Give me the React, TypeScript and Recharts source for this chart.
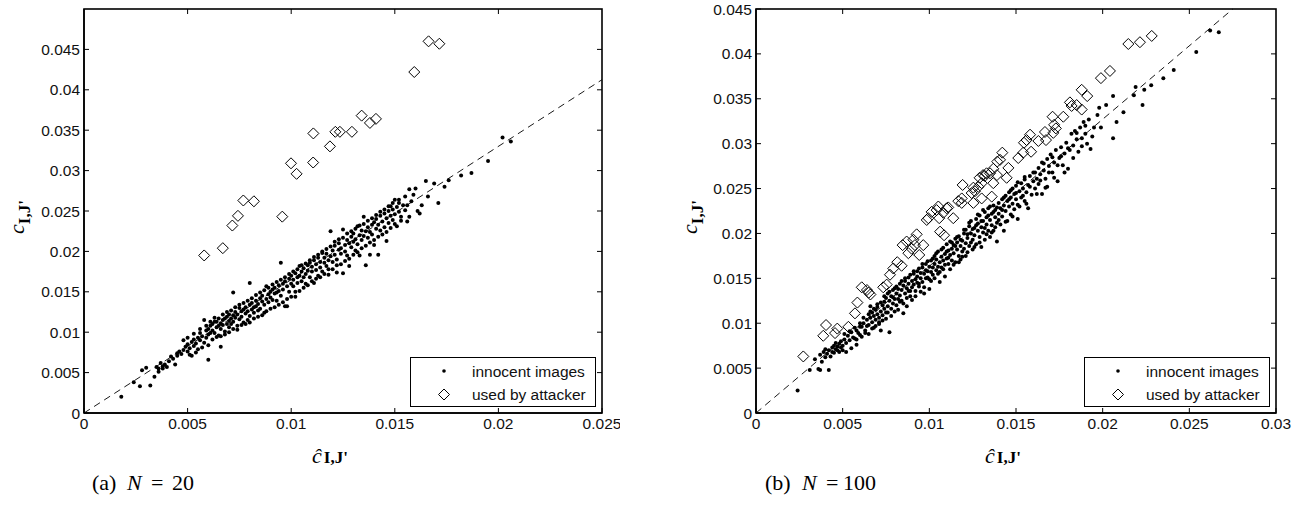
import React from "react";
import { ScatterChart, Scatter, XAxis, YAxis, ReferenceLine } from "recharts";

// (a) N = 20
const innocentA: [number, number][] = [
  [0.0018,0.0020],[0.0024,0.0038],[0.0027,0.0033],[0.0028,0.0053],[0.0030,0.0056],[0.0032,0.0034],[0.0034,0.0045],[0.0035,0.0057],[0.0036,0.0051],[0.0037,0.0062],[0.0038,0.0055],[0.0039,0.0060],[0.0040,0.0057],[0.0038,0.0058],[0.0036,0.0055],
  [0.0041,0.0064],[0.0042,0.0070],[0.0043,0.0067],[0.0044,0.0060],[0.0045,0.0074],[0.0045,0.0071],[0.0046,0.0076],[0.0047,0.0073],[0.0048,0.0090],[0.0048,0.0078],[0.0049,0.0082],[0.0050,0.0076],[0.0050,0.0085],[0.0051,0.0080],[0.0052,0.0071],[0.0052,0.0088],[0.0053,0.0091],[0.0053,0.0083],[0.0054,0.0086],[0.0055,0.0093],[0.0055,0.0079],[0.0056,0.0099],[0.0056,0.0090],[0.0057,0.0095],[0.0058,0.0115],[0.0058,0.0087],[0.0059,0.0102],[0.0059,0.0093],[0.0060,0.0066],[0.0060,0.0104],[0.0060,0.0097],
  [0.0061,0.0108],[0.0061,0.0099],[0.0062,0.0110],[0.0062,0.0102],[0.0063,0.0099],[0.0063,0.0113],[0.0064,0.0106],[0.0064,0.0113],[0.0065,0.0096],[0.0065,0.0108],[0.0066,0.0082],[0.0066,0.0111],[0.0066,0.0104],[0.0067,0.0115],[0.0067,0.0109],[0.0068,0.0101],[0.0068,0.0117],[0.0069,0.0119],[0.0069,0.0110],[0.0070,0.0106],[0.0070,0.0114],[0.0070,0.0122],[0.0071,0.0117],[0.0071,0.0110],[0.0072,0.0149],[0.0072,0.0121],[0.0072,0.0113],[0.0073,0.0118],[0.0073,0.0125],[0.0074,0.0108],[0.0074,0.0122],[0.0075,0.0130],[0.0075,0.0116],[0.0076,0.0126],[0.0076,0.0119],[0.0077,0.0112],[0.0077,0.0128],[0.0078,0.0123],[0.0078,0.0131],[0.0079,0.0115],[0.0079,0.0126],[0.0080,0.0161],[0.0080,0.0134],[0.0080,0.0120],[0.0081,0.0128],
  [0.0081,0.0136],[0.0082,0.0124],[0.0082,0.0131],[0.0083,0.0132],[0.0083,0.0139],[0.0084,0.0127],[0.0084,0.0135],[0.0085,0.0142],[0.0085,0.0129],[0.0086,0.0138],[0.0086,0.0145],[0.0087,0.0124],[0.0087,0.0134],[0.0088,0.0157],[0.0088,0.0141],[0.0089,0.0147],[0.0089,0.0137],[0.0090,0.0150],[0.0090,0.0143],[0.0091,0.0153],[0.0091,0.0140],[0.0092,0.0148],[0.0092,0.0155],[0.0093,0.0149],[0.0093,0.0139],[0.0094,0.0158],[0.0094,0.0151],[0.0095,0.0186],[0.0095,0.0145],[0.0096,0.0160],[0.0096,0.0153],[0.0097,0.0132],[0.0097,0.0163],[0.0098,0.0157],[0.0098,0.0132],[0.0099,0.0166],[0.0099,0.0150],[0.0100,0.0160],[0.0100,0.0170],
  [0.0101,0.0165],[0.0101,0.0157],[0.0102,0.0144],[0.0102,0.0173],[0.0103,0.0168],[0.0103,0.0161],[0.0104,0.0182],[0.0104,0.0170],[0.0105,0.0163],[0.0105,0.0175],[0.0106,0.0168],[0.0106,0.0179],[0.0107,0.0160],[0.0107,0.0172],[0.0108,0.0183],[0.0108,0.0176],[0.0109,0.0168],[0.0109,0.0186],[0.0110,0.0175],[0.0110,0.0181],[0.0111,0.0161],[0.0111,0.0189],[0.0112,0.0177],[0.0112,0.0184],[0.0113,0.0170],[0.0113,0.0192],[0.0114,0.0180],[0.0114,0.0187],[0.0115,0.0198],[0.0115,0.0175],[0.0116,0.0186],[0.0116,0.0192],[0.0117,0.0182],[0.0117,0.0197],[0.0118,0.0189],[0.0118,0.0178],[0.0119,0.0194],[0.0119,0.0225],[0.0120,0.0187],[0.0120,0.0201],
  [0.0121,0.0196],[0.0121,0.0207],[0.0122,0.0190],[0.0122,0.0174],[0.0123,0.0202],[0.0123,0.0210],[0.0124,0.0197],[0.0124,0.0204],[0.0125,0.0173],[0.0125,0.0227],[0.0126,0.0208],[0.0126,0.0200],[0.0127,0.0214],[0.0127,0.0195],[0.0128,0.0182],[0.0128,0.0210],[0.0129,0.0218],[0.0129,0.0205],[0.0130,0.0212],[0.0130,0.0222],[0.0131,0.0201],[0.0131,0.0215],[0.0132,0.0231],[0.0132,0.0209],[0.0133,0.0195],[0.0133,0.0220],[0.0134,0.0214],[0.0134,0.0226],[0.0135,0.0243],[0.0135,0.0219],[0.0136,0.0183],[0.0136,0.0225],[0.0137,0.0217],[0.0137,0.0230],[0.0138,0.0196],[0.0138,0.0224],[0.0139,0.0233],[0.0139,0.0221],[0.0140,0.0208],[0.0140,0.0236],
  [0.0141,0.0228],[0.0141,0.0240],[0.0142,0.0196],[0.0142,0.0233],[0.0143,0.0226],[0.0143,0.0244],[0.0144,0.0237],[0.0145,0.0230],[0.0145,0.0247],[0.0146,0.0213],[0.0146,0.0241],[0.0147,0.0235],[0.0147,0.0250],[0.0148,0.0244],[0.0148,0.0256],[0.0149,0.0239],[0.0149,0.0252],[0.0150,0.0264],[0.0150,0.0246],[0.0151,0.0231],[0.0151,0.0255],[0.0152,0.0249],[0.0152,0.0260],[0.0153,0.0243],[0.0154,0.0257],[0.0155,0.0251],[0.0156,0.0237],[0.0156,0.0257],[0.0157,0.0277],[0.0158,0.0262],[0.0160,0.0278],[0.0161,0.0250],
  [0.0163,0.0257],[0.0165,0.0287],[0.0166,0.0268],[0.0169,0.0284],[0.0171,0.0260],[0.0174,0.0280],[0.0176,0.0288],[0.0182,0.0294],[0.0187,0.0297],[0.0195,0.0312],[0.0202,0.0341],[0.0206,0.0336],
  [0.0050,0.0093],[0.0051,0.0072],[0.0053,0.0098],[0.0054,0.0075],[0.0056,0.0104],[0.0057,0.0081],[0.0059,0.0108],[0.0060,0.0084],[0.0061,0.0113],[0.0062,0.0091],[0.0063,0.0118],[0.0064,0.0094],[0.0065,0.0117],[0.0066,0.0095],[0.0067,0.0122],[0.0068,0.0097],[0.0069,0.0125],[0.0070,0.0100],[0.0071,0.0127],[0.0072,0.0104],[0.0073,0.0131],[0.0074,0.0103],[0.0075,0.0134],[0.0076,0.0109],[0.0077,0.0136],[0.0078,0.0110],[0.0079,0.0139],[0.0080,0.0112],
  [0.0081,0.0142],[0.0082,0.0117],[0.0083,0.0146],[0.0084,0.0119],[0.0085,0.0149],[0.0086,0.0121],[0.0087,0.0152],[0.0088,0.0126],[0.0089,0.0155],[0.0090,0.0129],[0.0091,0.0159],[0.0092,0.0131],[0.0093,0.0162],[0.0094,0.0134],[0.0095,0.0165],[0.0096,0.0137],[0.0097,0.0168],[0.0098,0.0141],[0.0099,0.0172],[0.0100,0.0144],[0.0101,0.0175],[0.0102,0.0150],[0.0103,0.0178],[0.0104,0.0151],[0.0105,0.0183],[0.0106,0.0155],[0.0107,0.0185],[0.0108,0.0158],[0.0109,0.0189],[0.0110,0.0163],
  [0.0111,0.0193],[0.0112,0.0166],[0.0113,0.0196],[0.0114,0.0168],[0.0115,0.0200],[0.0116,0.0172],[0.0117,0.0203],[0.0118,0.0171],[0.0119,0.0206],[0.0120,0.0178],[0.0121,0.0212],[0.0122,0.0183],[0.0123,0.0215],[0.0124,0.0184],[0.0125,0.0217],[0.0126,0.0188],[0.0127,0.0222],[0.0128,0.0191],[0.0129,0.0225],[0.0130,0.0196],[0.0131,0.0228],[0.0132,0.0199],[0.0133,0.0232],[0.0134,0.0204],[0.0135,0.0234],[0.0136,0.0207],[0.0137,0.0238],[0.0138,0.0211],[0.0139,0.0241],[0.0140,0.0214],
  [0.0141,0.0245],[0.0142,0.0218],[0.0143,0.0249],[0.0144,0.0221],[0.0145,0.0252],[0.0146,0.0224],[0.0147,0.0256],[0.0148,0.0229],[0.0149,0.0260],[0.0150,0.0234],[0.0152,0.0264],[0.0153,0.0238],[0.0155,0.0268],[0.0157,0.0243],[0.0159,0.0270],[0.0162,0.0247],
];
const attackerA: [number, number][] = [
  [0.0058,0.0195],[0.0067,0.0204],[0.00716,0.0232],[0.00743,0.0244],[0.00769,0.0263],[0.0082,0.0262],[0.00957,0.0243],[0.00999,0.0309],[0.01026,0.0296],[0.01106,0.0310],[0.01107,0.0346],[0.01187,0.0330],[0.01213,0.0348],[0.01235,0.0348],[0.01293,0.0348],[0.0134,0.0368],[0.0138,0.0359],[0.01409,0.0364],[0.01594,0.0422],[0.01663,0.0460],[0.01715,0.0457],
];

// (b) N = 100
const innocentB: [number, number][] = [
  [0.0024,0.0025],[0.0031,0.0048],[0.0034,0.0060],[0.0036,0.0049],[0.0037,0.0048],[0.0037,0.0065],[0.0038,0.0057],[0.0039,0.0068],[0.0040,0.0062],[0.0040,0.0071],
  [0.0041,0.0066],[0.0042,0.0048],[0.0042,0.0070],[0.0043,0.0063],[0.0044,0.0073],[0.0044,0.0068],[0.0045,0.0075],[0.0045,0.0067],[0.0046,0.0071],[0.0046,0.0078],[0.0047,0.0070],[0.0047,0.0074],[0.0048,0.0068],[0.0048,0.0077],[0.0049,0.0073],[0.0049,0.0080],[0.0050,0.0075],[0.0050,0.0070],[0.0051,0.0082],[0.0052,0.0078],[0.0053,0.0086],[0.0054,0.0081],[0.0055,0.0090],[0.0056,0.0084],[0.0057,0.0083],[0.0058,0.0076],[0.0058,0.0092],[0.0059,0.0089],[0.0060,0.0096],[0.0060,0.0087],
  [0.0061,0.0096],[0.0062,0.0100],[0.0063,0.0092],[0.0064,0.0104],[0.0065,0.0110],[0.0065,0.0098],[0.0066,0.0119],[0.0066,0.0106],[0.0067,0.0101],[0.0067,0.0112],[0.0068,0.0108],[0.0068,0.0095],[0.0069,0.0115],[0.0069,0.0104],[0.0070,0.0110],[0.0070,0.0118],[0.0071,0.0099],[0.0071,0.0106],[0.0072,0.0113],[0.0072,0.0092],[0.0073,0.0120],[0.0073,0.0109],[0.0074,0.0116],[0.0074,0.0124],[0.0075,0.0112],[0.0075,0.0128],[0.0076,0.0119],[0.0076,0.0133],[0.0077,0.0090],[0.0077,0.0125],[0.0078,0.0116],[0.0078,0.0130],[0.0079,0.0122],[0.0079,0.0137],[0.0080,0.0127],[0.0080,0.0113],
  [0.0081,0.0133],[0.0081,0.0120],[0.0082,0.0138],[0.0082,0.0127],[0.0083,0.0131],[0.0083,0.0144],[0.0084,0.0125],[0.0084,0.0137],[0.0085,0.0142],[0.0085,0.0111],[0.0086,0.0133],[0.0086,0.0147],[0.0087,0.0139],[0.0087,0.0128],[0.0088,0.0144],[0.0088,0.0151],[0.0089,0.0136],[0.0089,0.0130],[0.0090,0.0147],[0.0090,0.0140],[0.0091,0.0155],[0.0091,0.0143],[0.0092,0.0149],[0.0092,0.0136],[0.0093,0.0152],[0.0093,0.0158],[0.0094,0.0144],[0.0094,0.0141],[0.0095,0.0156],[0.0095,0.0150],[0.0096,0.0162],[0.0096,0.0146],[0.0097,0.0155],[0.0097,0.0133],[0.0098,0.0159],[0.0098,0.0166],[0.0099,0.0151],[0.0099,0.0158],[0.0100,0.0163],[0.0100,0.0149],
  [0.0101,0.0170],[0.0101,0.0157],[0.0102,0.0162],[0.0102,0.0154],[0.0103,0.0175],[0.0103,0.0166],[0.0104,0.0159],[0.0104,0.0171],[0.0105,0.0163],[0.0105,0.0180],[0.0106,0.0168],[0.0106,0.0157],[0.0107,0.0174],[0.0107,0.0162],[0.0108,0.0184],[0.0108,0.0170],[0.0109,0.0165],[0.0109,0.0177],[0.0110,0.0188],[0.0110,0.0172],[0.0111,0.0181],[0.0111,0.0166],[0.0112,0.0176],[0.0112,0.0191],[0.0113,0.0183],[0.0113,0.0170],[0.0114,0.0187],[0.0114,0.0178],[0.0115,0.0194],[0.0115,0.0168],[0.0116,0.0182],[0.0116,0.0190],[0.0117,0.0175],[0.0117,0.0197],[0.0118,0.0186],[0.0118,0.0171],[0.0119,0.0174],[0.0119,0.0192],[0.0120,0.0200],[0.0120,0.0183],
  [0.0121,0.0189],[0.0121,0.0204],[0.0122,0.0179],[0.0122,0.0195],[0.0123,0.0208],[0.0123,0.0186],[0.0124,0.0200],[0.0124,0.0214],[0.0125,0.0193],[0.0125,0.0182],[0.0126,0.0206],[0.0126,0.0198],[0.0127,0.0216],[0.0127,0.0188],[0.0128,0.0203],[0.0128,0.0211],[0.0129,0.0196],[0.0129,0.0220],[0.0130,0.0207],[0.0130,0.0185],[0.0131,0.0214],[0.0131,0.0201],[0.0132,0.0224],[0.0132,0.0193],[0.0133,0.0210],[0.0133,0.0218],[0.0134,0.0203],[0.0134,0.0228],[0.0135,0.0215],[0.0135,0.0196],[0.0136,0.0222],[0.0136,0.0209],[0.0137,0.0231],[0.0137,0.0203],[0.0138,0.0218],[0.0138,0.0226],[0.0139,0.0212],[0.0139,0.0191],[0.0140,0.0234],[0.0140,0.0222],
  [0.0141,0.0228],[0.0141,0.0210],[0.0142,0.0238],[0.0142,0.0219],[0.0143,0.0231],[0.0143,0.0203],[0.0144,0.0242],[0.0144,0.0225],[0.0145,0.0236],[0.0145,0.0214],[0.0146,0.0246],[0.0146,0.0230],[0.0147,0.0221],[0.0147,0.0240],[0.0148,0.0250],[0.0148,0.0233],[0.0149,0.0227],[0.0149,0.0244],[0.0150,0.0238],[0.0150,0.0253],[0.0151,0.0232],[0.0151,0.0216],[0.0152,0.0247],[0.0153,0.0256],[0.0153,0.0240],[0.0154,0.0250],[0.0155,0.0236],[0.0155,0.0260],[0.0156,0.0246],[0.0157,0.0254],[0.0157,0.0228],[0.0158,0.0264],[0.0159,0.0243],[0.0160,0.0258],
  [0.0161,0.0268],[0.0161,0.0250],[0.0162,0.0261],[0.0163,0.0273],[0.0163,0.0255],[0.0164,0.0266],[0.0165,0.0244],[0.0165,0.0279],[0.0166,0.0270],[0.0167,0.0261],[0.0168,0.0283],[0.0168,0.0252],[0.0169,0.0275],[0.0170,0.0288],[0.0171,0.0268],[0.0172,0.0279],[0.0173,0.0293],[0.0174,0.0258],[0.0175,0.0284],[0.0176,0.0296],[0.0177,0.0276],[0.0178,0.0289],[0.0179,0.0301],[0.0180,0.0272],
  [0.0181,0.0293],[0.0182,0.0311],[0.0183,0.0298],[0.0184,0.0314],[0.0185,0.0305],[0.0186,0.0291],[0.0187,0.0318],[0.0188,0.0306],[0.0189,0.0324],[0.0190,0.0311],[0.0191,0.0300],[0.0192,0.0327],[0.0193,0.0294],[0.0195,0.0318],[0.0197,0.0332],[0.0198,0.0340],[0.0199,0.0318],[0.0202,0.0343],[0.0206,0.0353],[0.0206,0.0306],[0.0208,0.0324],[0.0212,0.0335],[0.0218,0.0354],[0.0219,0.0363],[0.0223,0.0343],[0.0224,0.0360],[0.0228,0.0365],[0.0235,0.0373],[0.0241,0.0382],[0.0254,0.0402],[0.0262,0.0426],[0.0267,0.0424],
  [0.0051,0.0088],[0.0052,0.0068],[0.0054,0.0091],[0.0055,0.0072],[0.0057,0.0095],[0.0058,0.0082],[0.0060,0.0100],[0.0061,0.0085],[0.0062,0.0106],[0.0063,0.0089],[0.0064,0.0097],[0.0065,0.0088],[0.0066,0.0113],[0.0067,0.0094],[0.0068,0.0116],[0.0069,0.0097],[0.0070,0.0121],[0.0071,0.0101],[0.0072,0.0123],[0.0073,0.0103],[0.0074,0.0130],[0.0075,0.0105],[0.0076,0.0112],[0.0077,0.0135],[0.0078,0.0108],[0.0079,0.0129],[0.0080,0.0139],
  [0.0081,0.0141],[0.0082,0.0115],[0.0083,0.0124],[0.0084,0.0147],[0.0085,0.0122],[0.0086,0.0150],[0.0087,0.0119],[0.0088,0.0136],[0.0089,0.0154],[0.0090,0.0126],[0.0091,0.0158],[0.0092,0.0130],[0.0093,0.0145],[0.0094,0.0161],[0.0095,0.0135],[0.0096,0.0166],[0.0097,0.0140],[0.0098,0.0150],[0.0099,0.0169],[0.0100,0.0138],[0.0101,0.0147],[0.0102,0.0172],[0.0103,0.0150],[0.0104,0.0178],[0.0105,0.0155],[0.0106,0.0146],[0.0107,0.0182],[0.0108,0.0160],[0.0109,0.0152],[0.0110,0.0180],
  [0.0111,0.0173],[0.0112,0.0160],[0.0113,0.0190],[0.0114,0.0165],[0.0115,0.0186],[0.0116,0.0196],[0.0117,0.0168],[0.0118,0.0193],[0.0119,0.0180],[0.0120,0.0204],[0.0121,0.0175],[0.0122,0.0199],[0.0123,0.0212],[0.0124,0.0190],[0.0125,0.0205],[0.0126,0.0185],[0.0127,0.0209],[0.0128,0.0221],[0.0129,0.0190],[0.0130,0.0214],[0.0131,0.0226],[0.0132,0.0206],[0.0133,0.0199],[0.0134,0.0220],[0.0135,0.0230],[0.0136,0.0201],[0.0137,0.0224],[0.0138,0.0207],[0.0139,0.0229],[0.0140,0.0215],
  [0.0142,0.0226],[0.0143,0.0240],[0.0144,0.0213],[0.0146,0.0238],[0.0147,0.0248],[0.0148,0.0219],[0.0150,0.0245],[0.0151,0.0257],[0.0152,0.0230],[0.0154,0.0242],[0.0155,0.0263],[0.0156,0.0233],[0.0158,0.0252],[0.0160,0.0268],[0.0162,0.0244],[0.0164,0.0259],[0.0166,0.0278],[0.0167,0.0251],[0.0169,0.0268],[0.0171,0.0285],[0.0172,0.0262],[0.0174,0.0276],[0.0176,0.0286],[0.0178,0.0268],[0.0180,0.0295],[0.0183,0.0284],[0.0185,0.0312],[0.0188,0.0297],[0.0190,0.0320],[0.0194,0.0308],
];
const attackerB: [number, number][] = [
  [0.00273,0.0063],[0.00388,0.0086],[0.00404,0.0098],[0.00456,0.0089],[0.00469,0.0094],[0.00533,0.0096],[0.00571,0.0111],[0.00585,0.0123],[0.0061,0.0140],[0.0064,0.0137],[0.0065,0.0134],[0.0066,0.0132],[0.00734,0.0140],[0.00754,0.0143],[0.00773,0.0154],[0.00792,0.0161],[0.00815,0.0168],[0.0084,0.0164],[0.00846,0.0187],
  [0.00869,0.0191],[0.00879,0.0178],[0.00898,0.0183],[0.00908,0.0193],[0.00917,0.0187],[0.00927,0.0199],[0.00942,0.0176],[0.00965,0.0187],[0.00985,0.0215],[0.00994,0.0217],[0.01013,0.0224],[0.01042,0.0226],[0.01052,0.0230],[0.01057,0.0217],[0.01062,0.0202],[0.01081,0.0223],[0.01085,0.0198],[0.011,0.0228],[0.01109,0.0229],[0.01138,0.0217],[0.01167,0.0236],[0.01187,0.0239],[0.01187,0.0234],[0.01192,0.0254],[0.01244,0.0245],[0.01254,0.0251],[0.01254,0.0234],[0.01263,0.0247],[0.01283,0.0252],[0.0129,0.0262],[0.01302,0.0256],[0.01302,0.0239],[0.0131,0.0265],[0.0132,0.0264],[0.0133,0.0267],[0.0135,0.0267],[0.0136,0.0241],[0.01369,0.0256],[0.01369,0.0272],[0.0139,0.0265],[0.01392,0.0280],[0.01408,0.0282],[0.01421,0.0290],[0.01446,0.0262],[0.01456,0.0273],[0.01513,0.0284],[0.01542,0.0290],[0.01546,0.0301],[0.01561,0.0304],[0.01581,0.0310],[0.01587,0.0291],[0.01629,0.0303],[0.01667,0.0313],[0.01673,0.0304],[0.01711,0.0330],[0.01715,0.0312],[0.0172,0.0321],[0.0173,0.0317],[0.01773,0.0330],[0.01811,0.0346],[0.01821,0.0342],[0.0185,0.0343],[0.01879,0.0360],[0.01879,0.0338],[0.01911,0.0353],[0.0199,0.0373],[0.02042,0.0381],[0.02148,0.0411],[0.02215,0.0413],[0.02283,0.0420],
];

const xTicksA = [0, 0.005, 0.01, 0.015, 0.02, 0.025];
const yTicksA = [0, 0.005, 0.01, 0.015, 0.02, 0.025, 0.03, 0.035, 0.04, 0.045];
const xTicksB = [0, 0.005, 0.01, 0.015, 0.02, 0.025, 0.03];
const yTicksB = [0, 0.005, 0.01, 0.015, 0.02, 0.025, 0.03, 0.035, 0.04, 0.045];
const slopeA = 1.65;
const slopeB = 1.636;

const SANS = "'Liberation Sans', Arial, sans-serif";
const SERIF = "'Liberation Serif', 'Times New Roman', serif";
const tickStyle = { fontSize: 15.5, fill: "#111", fontFamily: SANS };

const CHART_H = 450;
const MARGIN_TOP = 9;
const MARGIN_BOTTOM = 7;
const X_AXIS_H = 30;
const MARGIN_RIGHT = 18;
const Y_AXIS_W = 60;
const TICK_LEN = 5;
const PLOT_BOTTOM = CHART_H - MARGIN_BOTTOM - X_AXIS_H;

const panelA = { left: 0, width: 620, marginLeft: 24, xMax: 0.025, yMax: 0.05, xTicks: xTicksA, yTicks: yTicksA };
const panelB = { left: 660, width: 634, marginLeft: 36, xMax: 0.03, yMax: 0.045, xTicks: xTicksB, yTicks: yTicksB };

const toPts = (arr: [number, number][]) => arr.map(([x, y]) => ({ x, y }));

const Dot = (p: any) => <circle cx={p.cx} cy={p.cy} r={2} fill="#000" />;
const Diamond = (p: any) => {
  const s = 5.5;
  return (
    <polygon
      points={`${p.cx},${p.cy - s} ${p.cx + s},${p.cy} ${p.cx},${p.cy + s} ${p.cx - s},${p.cy}`}
      fill="none"
      stroke="#000"
      strokeWidth={1}
    />
  );
};

type PanelCfg = typeof panelA;

function Panel({ cfg, innocent, attacker, slope }: { cfg: PanelCfg; innocent: [number, number][]; attacker: [number, number][]; slope: number }) {
  const { left, width, marginLeft, xMax, yMax, xTicks, yTicks } = cfg;
  const axisLine = { stroke: "#000", strokeWidth: 1.5 };
  const tickLine = { stroke: "#000", strokeWidth: 1 };
  const lineEndX = Math.min(xMax, yMax / slope);
  return (
    <div style={{ position: "absolute", left, top: 0 }}>
      <ScatterChart width={width} height={CHART_H} margin={{ top: MARGIN_TOP, right: MARGIN_RIGHT, bottom: MARGIN_BOTTOM, left: marginLeft }}>
        <XAxis
          type="number"
          dataKey="x"
          domain={[0, xMax]}
          ticks={xTicks}
          interval={0}
          tickFormatter={(v) => String(v)}
          tick={tickStyle}
          tickSize={-TICK_LEN}
          tickMargin={10}
          axisLine={axisLine}
          tickLine={tickLine}
          height={X_AXIS_H}
        />
        <YAxis
          type="number"
          dataKey="y"
          domain={[0, yMax]}
          ticks={yTicks}
          interval={0}
          tickFormatter={(v) => String(v)}
          tick={tickStyle}
          tickSize={-TICK_LEN}
          tickMargin={9}
          axisLine={axisLine}
          tickLine={tickLine}
          width={Y_AXIS_W}
        />
        <ReferenceLine
          ifOverflow="visible"
          segment={[{ x: 0, y: 0 }, { x: lineEndX, y: lineEndX * slope }]}
          stroke="#000"
          strokeWidth={0.9}
          strokeDasharray="7 5"
        />
        <Scatter data={toPts(innocent)} shape={Dot} isAnimationActive={false} />
        <Scatter data={toPts(attacker)} shape={Diamond} isAnimationActive={false} />
      </ScatterChart>
    </div>
  );
}

// plot box with inward ticks on the top and right sides, mirroring the axes
function Frame({ cfg }: { cfg: PanelCfg }) {
  const { left, width, marginLeft, xMax, yMax, xTicks, yTicks } = cfg;
  const pl = left + marginLeft + Y_AXIS_W;
  const pr = left + width - MARGIN_RIGHT;
  const pt = MARGIN_TOP;
  const pb = PLOT_BOTTOM;
  const sx = (v: number) => pl + (v / xMax) * (pr - pl);
  const sy = (v: number) => pb - (v / yMax) * (pb - pt);
  let d = "";
  xTicks.filter((t) => t > 0 && t < xMax).forEach((t) => {
    d += `M${sx(t)},${pt} L${sx(t)},${pt + TICK_LEN} `;
  });
  yTicks.filter((t) => t > 0 && t < yMax).forEach((t) => {
    d += `M${pr - TICK_LEN},${sy(t)} L${pr},${sy(t)} `;
  });
  return (
    <g>
      <rect x={pl} y={pt} width={pr - pl} height={pb - pt} fill="none" stroke="#000" strokeWidth={1.6} />
      <path d={d} fill="none" stroke="#000" strokeWidth={1} />
    </g>
  );
}

function LegendBox({ left }: { left: number }) {
  return (
    <div
      style={{
        position: "absolute",
        left,
        top: 357,
        width: 184,
        height: 48,
        border: "1.5px solid #000",
        background: "#fff",
      }}
    >
      <svg width={184} height={48} style={{ position: "absolute", left: 0, top: 0 }}>
        <circle cx={33} cy={13} r={1.8} fill="#000" />
        <polygon points="33,31 38.5,36.5 33,42 27.5,36.5" fill="none" stroke="#000" strokeWidth={1} />
        <text x={61} y={18.5} fontFamily={SANS} fontSize={15.5} fill="#111">innocent images</text>
        <text x={61} y={41.5} fontFamily={SANS} fontSize={15.5} fill="#111">used by attacker</text>
      </svg>
    </div>
  );
}

export default function App() {
  return (
    <div style={{ position: "fixed", left: 0, top: 0, width: 1305, height: 510, background: "#fff" }}>
      <Panel cfg={panelA} innocent={innocentA} attacker={attackerA} slope={slopeA} />
      <Panel cfg={panelB} innocent={innocentB} attacker={attackerB} slope={slopeB} />
      <svg width={1305} height={510} style={{ position: "absolute", left: 0, top: 0, pointerEvents: "none" }}>
        <Frame cfg={panelA} />
        <Frame cfg={panelB} />
        {/* x-axis labels */}
        <text x={312} y={463} fontFamily={SERIF}>
          <tspan fontSize={22} fontStyle="italic">ĉ</tspan>
          <tspan fontSize={17} fontWeight="bold" dx={2}>I,J'</tspan>
        </text>
        <text x={985} y={463} fontFamily={SERIF}>
          <tspan fontSize={22} fontStyle="italic">ĉ</tspan>
          <tspan fontSize={17} fontWeight="bold" dx={2}>I,J'</tspan>
        </text>
        {/* y-axis labels */}
        <text transform="translate(24,234) rotate(-90)" fontFamily={SERIF}>
          <tspan fontSize={22} fontStyle="italic">c</tspan>
          <tspan fontSize={17} fontWeight="bold" dy={6}>I,J'</tspan>
        </text>
        <text transform="translate(697,234) rotate(-90)" fontFamily={SERIF}>
          <tspan fontSize={22} fontStyle="italic">c</tspan>
          <tspan fontSize={17} fontWeight="bold" dy={6}>I,J'</tspan>
        </text>
        {/* captions */}
        <g fontFamily={SERIF} fontSize={22} fill="#000">
          <text x={92} y={490}>(a)</text>
          <text x={127} y={490} fontStyle="italic">N</text>
          <text x={151} y={490}>=</text>
          <text x={172} y={490}>20</text>
          <text x={765} y={490}>(b)</text>
          <text x={802} y={490} fontStyle="italic">N</text>
          <text x={826} y={490}>=</text>
          <text x={843} y={490}>100</text>
        </g>
      </svg>
      <LegendBox left={410} />
      <LegendBox left={1084} />
    </div>
  );
}
